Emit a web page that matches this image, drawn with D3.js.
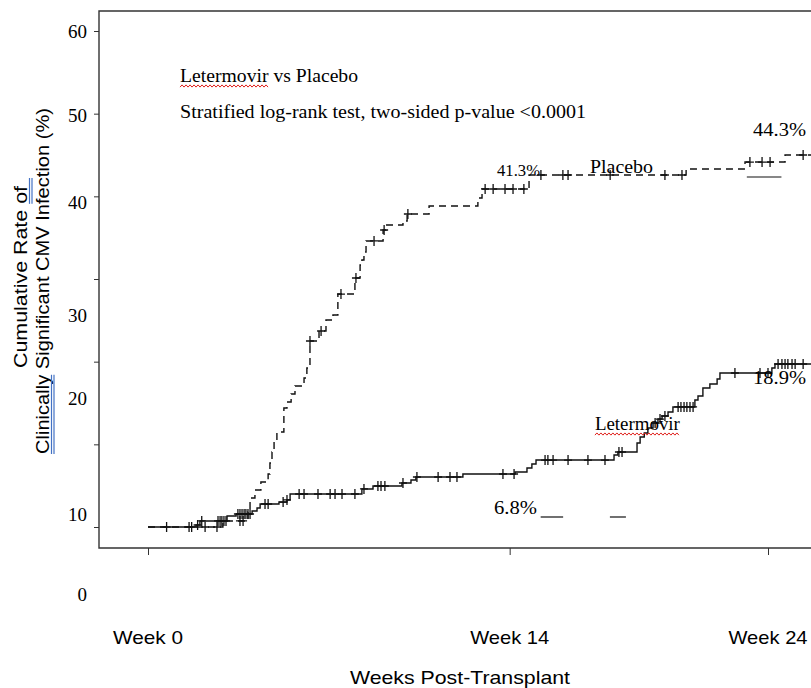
<!DOCTYPE html>
<html lang="en">
<head>
<meta charset="UTF-8">
<title>Cumulative Rate of Clinically Significant CMV Infection</title>
<script src="https://cdn.jsdelivr.net/npm/d3@7/dist/d3.min.js"></script>
<style>
  body { margin: 0; background: #fff; }
  svg text { fill: #000; }
  .serif { font-family: "Liberation Serif", "Times New Roman", serif; }
  .sans { font-family: "Liberation Sans", Arial, sans-serif; }
</style>
</head>
<body>
<svg id="chart" width="811" height="688"></svg>
<script>
// Kaplan-Meier style step points: [week, cumulative %] (value after the step)
const letermovirSteps = [
  [0, 0], [1.86, 0.24], [2.01, 0.73], [3.06, 1.33], [3.41, 1.57], [4.03, 1.94],
  [4.22, 2.30], [4.34, 2.78], [5.07, 3.02], [5.38, 3.27], [5.50, 3.99], [8.28, 4.60],
  [8.71, 4.96], [9.83, 5.32], [10.18, 5.69], [10.37, 6.05], [12.19, 6.41], [14.21, 6.65],
  [14.67, 7.14], [14.86, 7.62], [15.02, 8.10], [18.04, 8.71], [18.19, 9.07], [18.93, 10.16],
  [19.05, 10.89], [19.21, 11.37], [19.35, 11.98], [19.55, 12.58], [19.74, 13.06], [19.90, 13.43],
  [20.13, 13.91], [20.32, 14.52], [21.17, 15.36], [21.29, 15.85], [21.48, 16.81], [21.75, 17.30],
  [22.03, 17.90], [22.14, 18.63], [24.15, 19.23], [24.27, 19.72]
];
const letermovirCensored = [
  0.72, 1.59, 1.69, 1.92, 2.08, 2.71, 2.79, 2.86, 2.94, 3.02, 3.48, 3.56, 3.64, 3.72, 3.79,
  3.87, 3.95, 4.53, 4.65, 5.23, 5.38, 5.85, 6.04, 6.58, 7.05, 7.24, 7.51, 8.01, 8.36, 8.90,
  9.02, 9.17, 9.87, 10.41, 11.23, 11.69, 11.96, 13.74, 14.17, 15.37, 15.48, 15.68, 16.26,
  17.03, 17.69, 18.23, 18.35, 19.63, 19.82, 20.01, 20.52, 20.63, 20.75, 20.86, 20.98, 21.10,
  22.72, 23.69, 24.00, 24.39, 24.54, 24.66, 24.77, 24.93, 25.05, 25.36
];
const placeboSteps = [
  [0, 0], [2.90, 0.73], [3.87, 1.81], [3.95, 3.51], [4.14, 4.48], [4.37, 5.44], [4.65, 6.41],
  [4.72, 7.74], [4.80, 9.07], [4.88, 10.40], [4.99, 11.49], [5.26, 14.39], [5.38, 15.12],
  [5.54, 16.09], [5.69, 17.06], [6.04, 18.02], [6.15, 19.23], [6.27, 22.50], [6.62, 23.71],
  [6.89, 25.04], [7.16, 25.64], [7.35, 28.18], [8.01, 30.12], [8.21, 31.69], [8.28, 32.30],
  [8.36, 33.26], [8.44, 34.60], [9.10, 35.93], [9.21, 36.53], [9.87, 37.01], [10.03, 37.86],
  [10.88, 38.83], [12.77, 39.80], [12.93, 40.89], [14.75, 42.58], [20.83, 43.31],
  [23.11, 44.15], [24.66, 45.00]
];
const placeboCensored = [
  2.21, 2.67, 3.56, 3.68, 6.27, 6.70, 7.47, 8.05, 8.75, 9.14, 10.06, 13.05, 13.36, 13.82,
  14.13, 14.55, 15.21, 16.06, 16.26, 17.89, 20.01, 20.67, 23.30, 23.77, 24.08, 25.36
];
const lastWeek = 26.5;

const xTicks = [0, 14, 24];
const xTickLabels = ["Week 0", "Week 14", "Week 24"];
const yTicks = [0, 10, 20, 30, 40, 50, 60];
const yTickLabels = ["60", "50", "40", "30", "20", "10", "0"];
// where the (pasted) tick labels sit, in % units
const yLabelAt = [60, 49.84, 39.3, 25.64, 15.6, 1.57, -8.1];

// text annotations: [text, week, %, width, font size]
const notes = [
  ["Letermovir vs Placebo", 1.24, 53.83, 178, 19],
  ["Stratified log-rank test, two-sided p-value <0.0001", 1.24, 49.47, 406, 19],
  ["41.3%", 13.51, 42.46, 43, 17],
  ["Placebo", 17.11, 42.82, 63, 19],
  ["44.3%", 23.42, 47.30, 53, 19],
  ["Letermovir", 17.30, 11.73, 85, 19],
  ["18.9%", 23.42, 17.30, 53, 19],
  ["6.8%", 13.39, 1.57, 43, 19]
];
// stray underscore strokes next to the labels: [week from, week to, %]
const noteRules = [[15.20, 16.07, 1.21], [17.88, 18.50, 1.21], [23.18, 24.52, 42.34]];

const svg = d3.select("#chart");
const x = d3.scaleLinear().domain([0, 24]).range([148, 768]);
const y = d3.scaleLinear().domain([0, 60]).range([527, 31]);
const frame = { left: 99, top: 11, bottom: 548 };

// frame
svg.append("path")
  .attr("d", `M830,${frame.top}H${frame.left}V${frame.bottom}H830`)
  .attr("fill", "none").attr("stroke", "#333").attr("stroke-width", 1.4);

// y axis ticks
const yAxis = svg.append("g")
  .attr("transform", `translate(${frame.left},0)`)
  .call(d3.axisLeft(y).tickValues(yTicks).tickFormat("").tickSize(5).tickSizeOuter(0));
yAxis.select(".domain").remove();
yAxis.selectAll(".tick line").attr("stroke", "#333");

svg.append("g").selectAll("text")
  .data(yTickLabels)
  .join("text")
  .attr("class", "serif")
  .attr("x", 87)
  .attr("y", (d, i) => y(yLabelAt[i]))
  .attr("dy", "0.35em")
  .attr("text-anchor", "end")
  .attr("font-size", 19)
  .text(d => d);

// x axis ticks
const xAxis = svg.append("g")
  .attr("transform", `translate(0,${frame.bottom})`)
  .call(d3.axisBottom(x).tickValues(xTicks).tickFormat("").tickSize(7).tickSizeOuter(0));
xAxis.select(".domain").remove();
xAxis.selectAll(".tick line").attr("stroke", "#333");

svg.append("g").selectAll("text")
  .data(xTickLabels)
  .join("text")
  .attr("class", "sans")
  .attr("x", (d, i) => x(xTicks[i]))
  .attr("y", 644)
  .attr("text-anchor", "middle")
  .attr("font-size", 19)
  .attr("textLength", (d, i) => i === 0 ? 70 : 79)
  .attr("lengthAdjust", "spacingAndGlyphs")
  .text(d => d);

svg.append("text")
  .attr("class", "sans")
  .attr("x", 460).attr("y", 684)
  .attr("text-anchor", "middle")
  .attr("font-size", 19)
  .attr("textLength", 220).attr("lengthAdjust", "spacingAndGlyphs")
  .text("Weeks Post-Transplant");

// y axis title, two rotated lines with blue double underline
function doubleUnderline(g, el, from, to, extra) {
  const a = el.getStartPositionOfChar(from).x;
  const b = el.getEndPositionOfChar(to).x + extra;
  [2.5, 5].forEach(off => {
    g.append("line").attr("x1", a).attr("x2", b).attr("y1", off).attr("y2", off)
      .attr("stroke", "#4472c4").attr("stroke-width", 1.2);
  });
}
const t1 = svg.append("g").attr("transform", "translate(27,277) rotate(-90)");
const t1Text = t1.append("text").attr("class", "sans").attr("text-anchor", "middle")
  .attr("font-size", 18).attr("textLength", 182).attr("lengthAdjust", "spacingAndGlyphs")
  .text("Cumulative Rate of");
doubleUnderline(t1, t1Text.node(), 16, 17, 8);

const t2 = svg.append("g").attr("transform", "translate(49,281) rotate(-90)");
const t2Text = t2.append("text").attr("class", "sans").attr("text-anchor", "middle")
  .attr("font-size", 18).attr("textLength", 346).attr("lengthAdjust", "spacingAndGlyphs")
  .text("Clinically Significant CMV Infection (%)");
doubleUnderline(t2, t2Text.node(), 0, 9, 0);

// curves
function stepValue(steps, w) {
  let v = 0;
  for (const s of steps) { if (s[0] <= w) v = s[1]; }
  return v;
}
const line = d3.line().x(d => x(d[0])).y(d => y(d[1])).curve(d3.curveStepAfter);

const curves = [
  { steps: placeboSteps, censored: placeboCensored, dash: "7,5" },
  { steps: letermovirSteps, censored: letermovirCensored, dash: null }
];
curves.forEach(c => {
  const pts = c.steps.concat([[lastWeek, c.steps[c.steps.length - 1][1]]]);
  svg.append("path")
    .attr("d", line(pts))
    .attr("fill", "none")
    .attr("stroke", "#111")
    .attr("stroke-width", 1.4)
    .attr("stroke-dasharray", c.dash);
  svg.append("g").selectAll("path")
    .data(c.censored)
    .join("path")
    .attr("d", w => {
      const cx = x(w), cy = y(stepValue(c.steps, w));
      return `M${cx},${cy - 5}V${cy + 5}M${cx - 4},${cy}H${cx + 4}`;
    })
    .attr("stroke", "#111")
    .attr("stroke-width", 1.3);
});

// annotations
const noteG = svg.append("g");
notes.forEach(n => {
  const t = noteG.append("text")
    .attr("class", "serif")
    .attr("x", x(n[1])).attr("y", y(n[2]))
    .attr("font-size", n[4])
    .attr("textLength", n[3]).attr("lengthAdjust", "spacingAndGlyphs")
    .text(n[0]);
  if (n[0].startsWith("Letermovir")) {
    const el = t.node();
    const a = el.getStartPositionOfChar(0).x;
    const b = el.getEndPositionOfChar(9).x;
    const by = y(n[2]) + 4;
    const pts = d3.range(a, b, 2).map((px, i) => [px, by + (i % 2 ? -1.1 : 1.1)]);
    noteG.append("path")
      .attr("d", d3.line()(pts))
      .attr("fill", "none")
      .attr("stroke", "#e0201b")
      .attr("stroke-width", 1);
  }
});
noteG.selectAll("line")
  .data(noteRules)
  .join("line")
  .attr("x1", d => x(d[0])).attr("x2", d => x(d[1]))
  .attr("y1", d => y(d[2])).attr("y2", d => y(d[2]))
  .attr("stroke", "#111").attr("stroke-width", 1.2);
</script>
</body>
</html>
